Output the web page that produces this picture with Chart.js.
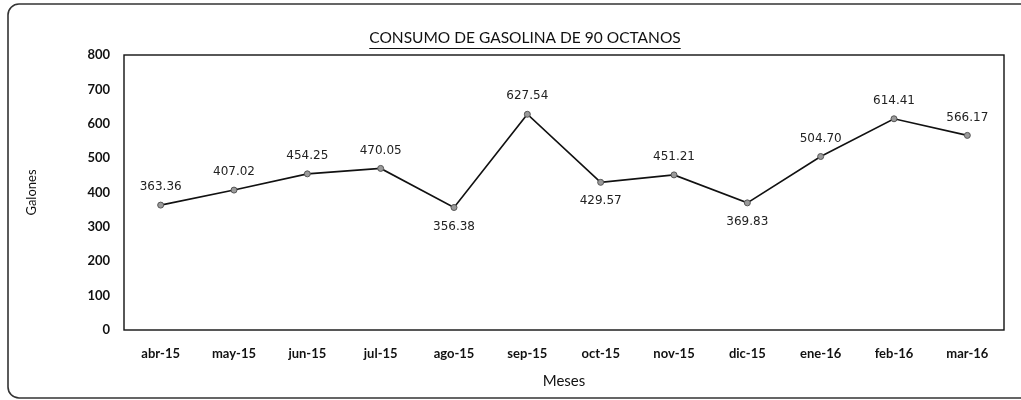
<!DOCTYPE html>
<html>
<head>
<meta charset="utf-8">
<script src="https://cdn.jsdelivr.net/npm/chart.js@4.4.0/dist/chart.umd.min.js"></script>
<style>
  html, body { margin: 0; padding: 0; background: #fff; }
  canvas { display: block; }
</style>
</head>
<body>
<canvas id="chart" width="1021" height="400"></canvas>
<script>
(function () {
    'use strict';

    // Data ---------------------------------------------------------------
    const months = ['abr-15', 'may-15', 'jun-15', 'jul-15', 'ago-15', 'sep-15',
                    'oct-15', 'nov-15', 'dic-15', 'ene-16', 'feb-16', 'mar-16'];
    const galones = [363.36, 407.02, 454.25, 470.05, 356.38, 627.54,
                     429.57, 451.21, 369.83, 504.70, 614.41, 566.17];
    const yTicks = [0, 100, 200, 300, 400, 500, 600, 700, 800];

    const title = 'CONSUMO DE GASOLINA DE 90 OCTANOS';

    // Outer frame (scanned rounded box) + chart title with underline
    const framePlugin = {
        id: 'frame',
        beforeDraw(chart) {
            const ctx = chart.ctx;
            ctx.save();
            ctx.strokeStyle = '#333';
            ctx.lineWidth = 1.6;
            ctx.beginPath();
            ctx.roundRect(8, 4, 1040, 394, 11);
            ctx.stroke();

            ctx.font = '15.5px Lato';
            ctx.fillStyle = '#111';
            ctx.textAlign = 'center';
            ctx.textBaseline = 'middle';
            ctx.fillText(title, 525, 38);
            const w = ctx.measureText(title).width;
            ctx.lineWidth = 1;
            ctx.strokeStyle = '#111';
            ctx.beginPath();
            ctx.moveTo(525 - w / 2, 48.5);
            ctx.lineTo(525 + w / 2, 48.5);
            ctx.stroke();
            ctx.restore();
        },
        afterDraw(chart) {
            const a = chart.chartArea;
            const ctx = chart.ctx;
            ctx.save();
            ctx.strokeStyle = '#111';
            ctx.lineWidth = 1.4;
            ctx.strokeRect(a.left, a.top, a.right - a.left, a.bottom - a.top);
            ctx.restore();
        },
    };

    // Value labels: below the point at local dips, above otherwise
    const labelPlugin = {
        id: 'valueLabels',
        afterDatasetsDraw(chart) {
            const ctx = chart.ctx;
            const meta = chart.getDatasetMeta(0);
            const vals = chart.data.datasets[0].data;
            ctx.save();
            ctx.font = '12px "DejaVu Sans"';
            ctx.fillStyle = '#222';
            ctx.textAlign = 'center';
            ctx.textBaseline = 'middle';
            meta.data.forEach((pt, i) => {
                const v = vals[i];
                const dip = i > 0 && i < vals.length - 1 && v < vals[i - 1] && v < vals[i + 1];
                ctx.fillText(v.toFixed(2), pt.x, pt.y + (dip ? 19 : -18));
            });
            ctx.restore();
        },
    };

    new Chart(document.getElementById('chart'), {
        type: 'line',
        data: {
            labels: months,
            datasets: [{
                data: galones,
                borderColor: '#111',
                borderWidth: 1.6,
                tension: 0,
                pointRadius: 3,
                pointBackgroundColor: '#9a9a9a',
                pointBorderColor: '#555',
                pointBorderWidth: 1,
            }],
        },
        options: {
            responsive: false,
            animation: false,
            layout: { padding: { top: 55, right: 17, left: 0, bottom: 0 } },
            plugins: { legend: { display: false }, tooltip: { enabled: false }, title: { display: false } },
            scales: {
                x: {
                    offset: true,
                    grid: { display: false, drawTicks: false },
                    border: { display: false },
                    ticks: { color: '#111', padding: 16, font: { family: 'Lato', size: 13, weight: 'bold' }, maxRotation: 0 },
                    title: { display: true, text: 'Meses', color: '#111', font: { family: 'Lato', size: 15 }, padding: { top: 0, bottom: 10 } },
                    afterFit: (s) => { s.height = 70; },
                },
                y: {
                    min: 0,
                    max: 800,
                    afterBuildTicks: (s) => { s.ticks = yTicks.map(v => ({ value: v })); },
                    grid: { display: false, drawTicks: false },
                    border: { display: false },
                    ticks: { color: '#111', padding: 14, font: { family: 'Lato', size: 13, weight: 'bold' } },
                    title: { display: true, text: 'Galones', color: '#111', font: { family: 'Lato', size: 13 }, padding: { top: 24, bottom: 0 } },
                    afterFit: (s) => { s.width = 124; },
                },
            },
        },
        plugins: [framePlugin, labelPlugin],
    });
})();
</script>
</body>
</html>
